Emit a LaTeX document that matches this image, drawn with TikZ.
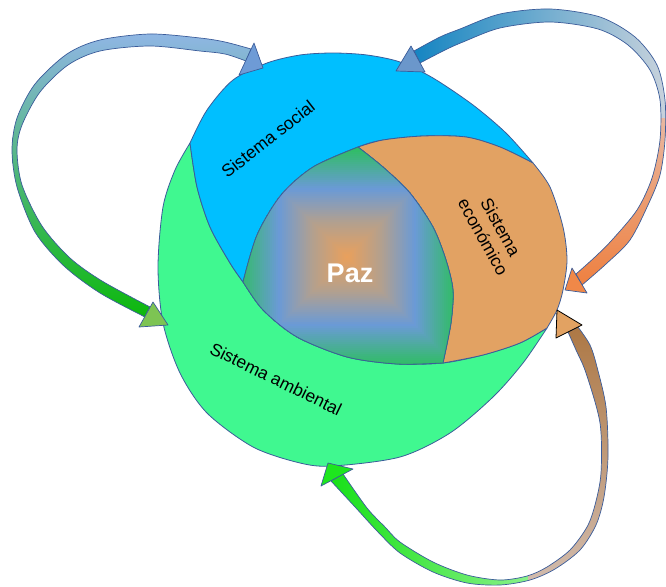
\documentclass[tikz,border=0pt]{standalone}
\usepackage{fontspec}
\setmainfont{Liberation Sans}
\definecolor{edge}{HTML}{3B5C9A}
\definecolor{cblue}{HTML}{00BFFF}
\definecolor{cgreen}{HTML}{40F890}
\definecolor{corange}{HTML}{E2A263}
\definecolor{pz0}{HTML}{E9A05C}
\definecolor{pz1}{HTML}{B3A08E}
\definecolor{pz2}{HTML}{6A9AD6}
\definecolor{pz3}{HTML}{2EBE62}
\definecolor{lTop}{HTML}{8FB6E4}
\definecolor{lMid}{HTML}{9EBFA8}
\definecolor{lBot}{HTML}{0CB80C}
\definecolor{lheadA}{HTML}{6E9BD6}
\definecolor{lheadB}{HTML}{7DC453}
\definecolor{trL}{HTML}{1585C2}
\definecolor{trR}{HTML}{C8D2DC}
\definecolor{trT}{HTML}{E6DCE0}
\definecolor{trM}{HTML}{F3B48A}
\definecolor{trB}{HTML}{EE8040}
\definecolor{trheadA}{HTML}{6B97CB}
\definecolor{trheadB}{HTML}{F08848}
\definecolor{brGL}{HTML}{18E018}
\definecolor{brGR}{HTML}{B8F8B8}
\definecolor{brTT}{HTML}{AD7845}
\definecolor{brTB}{HTML}{D2BCAE}
\definecolor{brheadA}{HTML}{E2A262}
\definecolor{brheadB}{HTML}{1EE61E}
\begin{document}
\begin{tikzpicture}[x=1pt,y=-1pt,
  region/.style={draw=edge,line width=0.8pt,line join=round},
  arrowedge/.style={draw=edge,line width=0.7pt,line join=round},
  lbl/.style={font=\fontsize{17.5}{20}\selectfont,text=black,inner sep=0pt,align=center}]
\useasboundingbox (0,0) rectangle (666,586);

\def\GreenPath{plot[smooth] coordinates {(547,328) (523,363) (493,397) (450,433) (400,457) (333,466) (300,463) (253,447) (207,413) (180,373) (163,323) (158,267) (163,207) (175,170) (190,143)} -- plot[smooth] coordinates {(190,143) (197,187) (210,227) (230,263) (243,282) (263,310) (297,337) (347,357) (397,364) (443,363) (483,355) (520,343) (547,328)} -- cycle}
\def\BluePath{plot[smooth] coordinates {(190,143) (207,110) (233,80) (267,63) (300,55) (333,53) (367,55) (400,62) (433,78) (473,105) (506,133) (533,163)} -- plot[smooth] coordinates {(533,163) (500,147) (466,137) (423,136) (383,140) (358,147) (313,167) (281,195) (257,235) (243,282)} -- plot[smooth] coordinates {(243,282) (230,263) (210,227) (197,187) (190,143)} -- cycle}
\def\OrangePath{plot[smooth] coordinates {(533,163) (500,147) (466,137) (423,136) (383,140) (358,147)} -- plot[smooth] coordinates {(358,147) (383,167) (410,193) (433,227) (446,260) (453,290) (451,323) (443,363)} -- plot[smooth] coordinates {(443,363) (483,355) (520,343) (547,328)} -- plot[smooth] coordinates {(547,328) (557,310) (563,290) (567,260) (563,227) (550,187) (533,163)} -- cycle}
\def\PazPath{plot[smooth] coordinates {(358,147) (313,167) (281,195) (257,235) (243,282)} -- plot[smooth] coordinates {(243,282) (263,310) (297,337) (347,357) (397,364) (443,363)} -- plot[smooth] coordinates {(443,363) (451,323) (453,290) (446,260) (433,227) (410,193) (383,167) (358,147)} -- cycle}

% regions
\path[region,fill=cgreen] \GreenPath;
\path[region,fill=cblue] \BluePath;
\path[region,fill=corange] \OrangePath;
\begin{scope}
\clip \PazPath;
\foreach \d in {120,118,...,0}{
  \ifdim\d pt>108pt \colorlet{cc}{pz3}%
  \else\ifdim\d pt>68pt \pgfmathtruncatemacro\p{(\d-68)/40*100}\colorlet{cc}{pz3!\p!pz2}%
  \else\ifdim\d pt>34pt \pgfmathtruncatemacro\p{(\d-34)/34*100}\colorlet{cc}{pz2!\p!pz1}%
  \else \pgfmathtruncatemacro\p{\d/34*100}\colorlet{cc}{pz1!\p!pz0}%
  \fi\fi\fi
  \fill[cc] ({347-\d-1},{257-\d-1}) rectangle ({347+\d+1},{257+\d+1});
}
\end{scope}
\path[region] \PazPath;

% left loop arrow
\def\Lband{plot[smooth] coordinates {(251,49) (225,42) (200,38) (150,34) (100,40) (67,54) (35,84) (17,118) (12,150) (17,187) (35,232) (64,266) (100,293) (145,317)} -- plot[smooth] coordinates {(150,307) (102,281) (70,258) (42,226) (22,185) (17,150) (22,125) (40,92) (68,65) (100,51) (150,46) (200,51) (225,54) (246,61)} -- cycle}
\shade[top color=lTop, middle color=lMid, bottom color=lBot] \Lband;
\path[arrowedge] \Lband;
\path[arrowedge,fill=lheadA] (254,43) -- (263,68) -- (239,75) -- cycle;
\path[arrowedge,fill=lheadB] (153,302) -- (168,325) -- (139,327) -- cycle;

% top right loop arrow
\def\TRband{plot[smooth] coordinates {(414,51) (440,37) (460,29) (500,14) (550,9) (600,17) (635,37) (657,65) (665,100) (665,140) (660,175) (648,205) (630,240) (606,264) (582,285)} -- plot[smooth] coordinates {(576,274) (595,257) (612,240) (637,210) (652,178) (660,140) (660,100) (650,70) (628,45) (598,29) (550,22) (500,28) (463,42) (445,50) (420,63)} -- cycle}
\begin{scope}
\clip (380,0) rectangle (670,118);
\shade[left color=trL, right color=trR] \TRband;
\end{scope}
\begin{scope}
\clip (380,118) rectangle (670,300);
\shade[top color=trT, middle color=trM, bottom color=trB] \TRband;
\end{scope}
\path[arrowedge] \TRband;
\path[arrowedge,fill=trheadA] (411,46) -- (425,72) -- (396,71) -- cycle;
\path[arrowedge,fill=trheadB] (572,268) -- (587,293) -- (565,290) -- cycle;

% bottom right loop arrow
\def\BRband{plot[smooth] coordinates {(578,327) (590,345) (597,367) (606,407) (608,457) (604,497) (596,525) (580,550) (555,569) (530,580) (500,585) (467,583) (433,572) (400,553) (378,532) (356,508) (331,481)} -- plot[smooth] coordinates {(343,474) (367,508) (385,527) (400,542) (433,562) (467,575) (500,580) (527,576) (547,567) (570,550) (587,527) (595,505) (601,473) (600,423) (586,373) (576,350) (568,332)} -- cycle}
\begin{scope}
\clip (320,300) rectangle (528,590);
\shade[left color=brGL, right color=brGR] \BRband;
\end{scope}
\begin{scope}
\clip (528,300) rectangle (620,590);
\shade[top color=brTT, bottom color=brTB] \BRband;
\end{scope}
\path[arrowedge] \BRband;
\path[draw=black,line width=0.8pt,line join=round,fill=brheadA] (557,310) -- (582,325) -- (556,338) -- cycle;
\path[arrowedge,fill=brheadB] (328,463) -- (353,469) -- (321,486) -- cycle;

% labels
\node[lbl, rotate=38] (social) at (268,139) {Sistema social};
\node[lbl, rotate=-26] (amb) at (276,379) {Sistema ambiental};
\node[lbl, rotate=-61] (eco) at (492,232) {Sistema\\económico};
\node[font=\bfseries\fontsize{27}{30}\selectfont, text=white, inner sep=0pt] (paz) at (350,273) {Paz};
\end{tikzpicture}
\end{document}
